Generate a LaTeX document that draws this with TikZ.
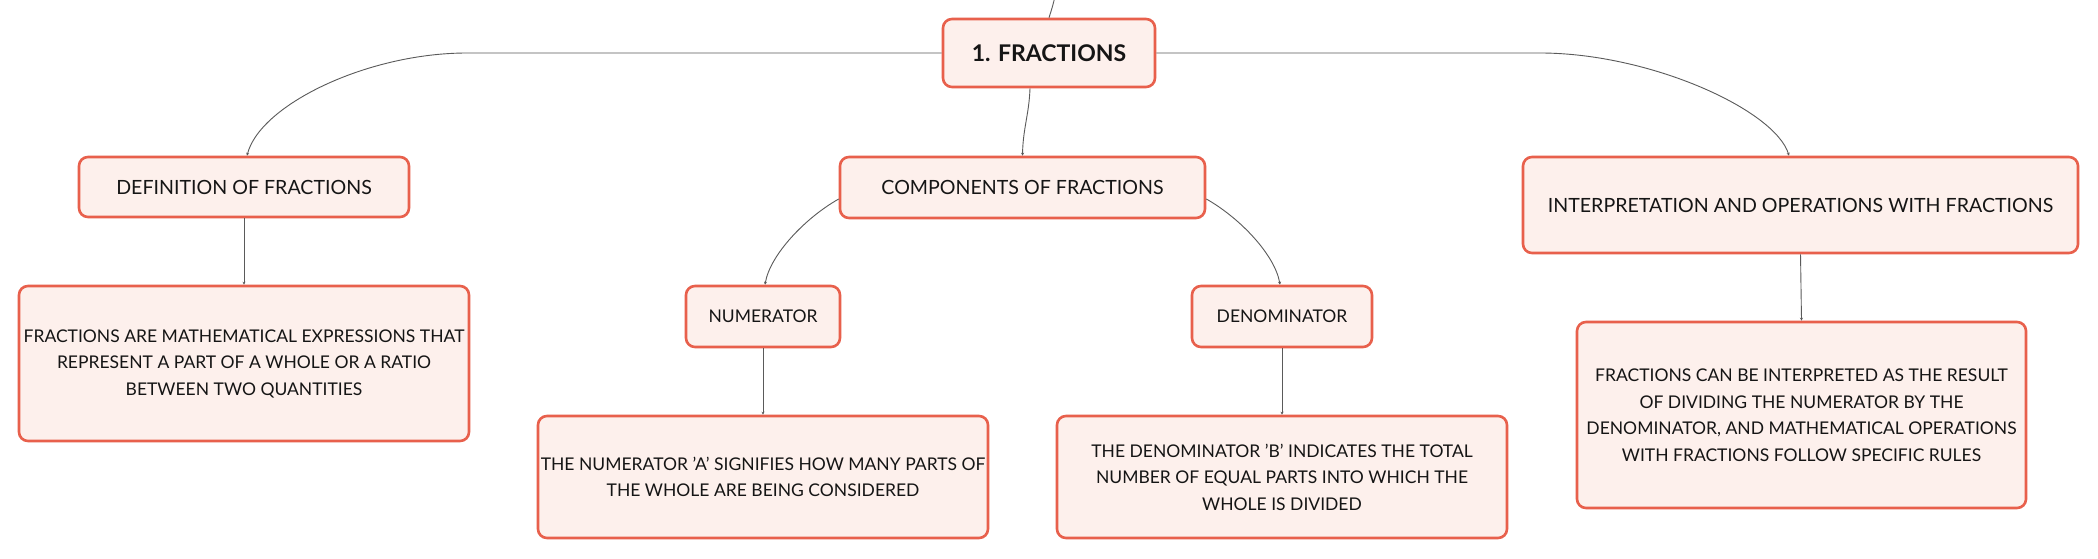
\documentclass[tikz,border=0pt]{standalone}
\usepackage{fontspec}
\setmainfont{Lato}
\usetikzlibrary{arrows.meta}
\definecolor{bordc}{HTML}{E8604C}
\definecolor{fillc}{HTML}{FDF0EC}
\definecolor{linec}{HTML}{5A5A5A}
\definecolor{txtc}{HTML}{151515}
\begin{document}
\begin{tikzpicture}[x=1pt,y=-1pt,
  box/.style={draw=bordc,fill=fillc,line width=2.6pt,rounded corners=9pt,
    inner sep=0pt,align=center,text=txtc,font=\fontsize{17.5}{26.5}\selectfont},
  topicbox/.style={box,font=\fontsize{19.6}{26.5}\selectfont},
  rootbox/.style={box,font=\fontsize{23}{28}\selectfont\bfseries},
  conn/.style={draw=linec,line width=0.9pt,-{Stealth[length=3pt,width=3pt]}},
  plain/.style={draw=linec,line width=0.9pt}]
\useasboundingbox (0,0) rectangle (2098,559);
\begin{scope}
\clip (0,0) rectangle (2098,559);
\fill[white] (0,0) rectangle (2098,559);
% nodes
\node[rootbox,minimum width=212,minimum height=68] (root) at (1049,53) {1. FRACTIONS};
\node[topicbox,minimum width=330,minimum height=60] (def) at (244,187) {DEFINITION OF FRACTIONS};
\node[box,minimum width=450,minimum height=155] (defd) at (244,363.5) {FRACTIONS ARE MATHEMATICAL EXPRESSIONS THAT\\REPRESENT A PART OF A WHOLE OR A RATIO\\BETWEEN TWO QUANTITIES};
\node[topicbox,minimum width=365,minimum height=61] (comp) at (1022.5,187.5) {COMPONENTS OF FRACTIONS};
\node[box,minimum width=154,minimum height=61] (num) at (763,316.5) {NUMERATOR};
\node[box,minimum width=450,minimum height=122] (numd) at (763,477) {THE NUMERATOR 'A' SIGNIFIES HOW MANY PARTS OF\\THE WHOLE ARE BEING CONSIDERED};
\node[box,minimum width=180,minimum height=61] (den) at (1282,316.5) {DENOMINATOR};
\node[box,minimum width=450,minimum height=122] (dend) at (1282,477) {THE DENOMINATOR 'B' INDICATES THE TOTAL\\NUMBER OF EQUAL PARTS INTO WHICH THE\\WHOLE IS DIVIDED};
\node[topicbox,minimum width=555,minimum height=96] (interp) at (1800.5,205) {INTERPRETATION AND OPERATIONS WITH FRACTIONS};
\node[box,minimum width=449,minimum height=186] (interpd) at (1801.5,415) {FRACTIONS CAN BE INTERPRETED AS THE RESULT\\OF DIVIDING THE NUMERATOR BY THE\\DENOMINATOR, AND MATHEMATICAL OPERATIONS\\WITH FRACTIONS FOLLOW SPECIFIC RULES};
% bend coordinates
\coordinate (lbend) at (467,53);
\coordinate (rbend) at (1540,53);
\coordinate (up) at (1057,-12);
% connectors
\draw[plain] (root.north) .. controls (1053,5) .. (up);
\draw[conn] (root.west) -- (lbend) .. controls (367,53) and (260,105) .. ([xshift=3pt]def.north);
\draw[conn] (root.east) -- (rbend) .. controls (1650,53) and (1775,110) .. ([xshift=-11.5pt]interp.north);
\draw[conn] ([xshift=-19pt]root.south) .. controls (1029,115) and (1023,128) .. (comp.north);
\draw[conn] ([yshift=-11.5pt]comp.west) .. controls (805,218) and (770,255) .. ([xshift=2pt]num.north);
\draw[conn] ([yshift=-11.5pt]comp.east) .. controls (1240,218) and (1275,255) .. ([xshift=-2pt]den.north);
\draw[conn] (def.south) -- (defd.north);
\draw[conn] (num.south) -- (numd.north);
\draw[conn] (den.south) -- (dend.north);
\draw[conn] (interp.south) -- (interpd.north);
\end{scope}
\end{tikzpicture}
\end{document}
